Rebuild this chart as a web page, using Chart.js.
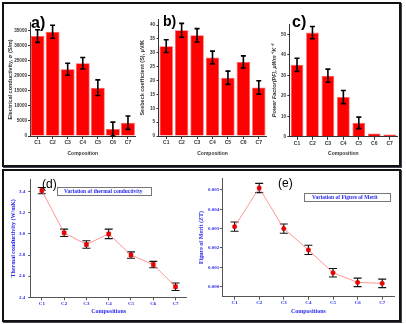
<!DOCTYPE html>
<html>
<head>
<meta charset="utf-8">
<script src="https://cdn.jsdelivr.net/npm/chart.js@4"></script>
<style>
body { margin: 0; width: 406px; height: 324px; background: #fff; position: relative; overflow: hidden; font-family: "Liberation Sans", Arial, sans-serif; }
canvas { position: absolute; }
.frame { position: absolute; box-sizing: border-box; border: 2px solid #111; box-shadow: 1px 1px 0 #445; }
.tag { position: absolute; font-weight: bold; line-height: 1; color: #000; }
.sub { position: absolute; font-size: 12px; line-height: 1; color: #000; }
.leg { position: absolute; box-sizing: border-box; border: 1px solid #777; color: #2a2aee; font: bold 5.5px "Liberation Serif", serif; line-height: 7px; white-space: nowrap; }
</style>
</head>
<body>
<div class="frame" style="left:2px;top:2px;width:399px;height:165px"></div>
<div class="frame" style="left:2px;top:169px;width:399px;height:153px"></div>

<canvas id="chartA" width="133" height="153" style="left:5px;top:5px"></canvas>
<canvas id="chartB" width="132" height="153" style="left:138px;top:5px"></canvas>
<canvas id="chartC" width="131" height="153" style="left:268px;top:5px"></canvas>
<canvas id="chartD" width="198" height="146" style="left:5px;top:172px"></canvas>
<canvas id="chartE" width="203" height="146" style="left:196px;top:172px"></canvas>

<div class="tag" style="left:31px;top:15px;font-size:16px">a)</div>
<div class="tag" style="left:163px;top:14px;font-size:14px">b)</div>
<div class="tag" style="left:292px;top:14px;font-size:16px">c)</div>
<div class="sub" style="left:42px;top:178px">(d)</div>
<div class="sub" style="left:278px;top:177px">(e)</div>
<div class="leg" style="left:57px;top:187px;width:95px;height:9px;padding-left:6px">Variation of thermal conductivity</div>
<div class="leg" style="left:304px;top:193px;width:87px;height:9px;padding-left:7px">Variation of Figure of Merit</div>

<script>
const categories = ['C1', 'C2', 'C3', 'C4', 'C5', 'C6', 'C7'];

// a) electrical conductivity (S/m)
const conductivity = [33100, 34500, 22100, 24100, 16000, 2300, 4400];
const conductivityErr = [2100, 2150, 2000, 1900, 2600, 2300, 2200];

// b) seebeck coefficient (uV/K)
const seebeck = [32.4, 38.1, 36.3, 28.3, 21.0, 26.7, 17.5];
const seebeckErr = [2.3, 2.5, 2.4, 2.3, 2.4, 2.2, 2.4];

// c) power factor
const powerFactor = [35.1, 50.8, 29.8, 19.4, 6.8, 1.6, 1.1];
const powerFactorErr = [3.2, 3.0, 3.2, 3.2, 2.8, 0, 0];

// d) thermal conductivity (W/mK)
const thermal = [3.41, 3.01, 2.90, 3.00, 2.80, 2.71, 2.50];
const thermalErr = [0.03, 0.035, 0.035, 0.045, 0.03, 0.03, 0.035];

// e) figure of merit
const merit = [0.0031, 0.0051, 0.0030, 0.0019, 0.00072, 0.00022, 0.00017];
const meritErr = [0.00024, 0.00024, 0.00024, 0.00024, 0.00022, 0.00022, 0.00022];

const topXTick = { family: 'Liberation Sans', size: 5, weight: 'bold' };
const topYTick = { family: 'Liberation Sans', size: 4.6, weight: 'bold' };
const topXTitle = { family: 'Liberation Sans', size: 5, weight: 'bold' };
const topYTitle = { family: 'Liberation Sans', size: 5.5, weight: 'bold' };
const botTick = { family: 'Liberation Serif', size: 5, weight: 'bold' };
const botTitle = { family: 'Liberation Serif', size: 6, weight: 'bold' };
const blue = '#2a2aee';

// vertical error bars with caps, drawn from the y scale
const errorBars = {
    id: 'errorBars',
    beforeDatasetsDraw(chart, args, opts) {
        if (!opts.front) drawErrors(chart, opts);
    },
    afterDatasetsDraw(chart, args, opts) {
        if (opts.front) drawErrors(chart, opts);
    }
};

function drawErrors(chart, opts) {
    const ctx = chart.ctx;
    const y = chart.scales.y;
    chart.data.datasets.forEach((ds, i) => {
        if (!ds.errors) return;
        const meta = chart.getDatasetMeta(i);
        ctx.save();
        ctx.strokeStyle = opts.color;
        ctx.lineWidth = opts.width;
        meta.data.forEach((el, j) => {
            const e = ds.errors[j];
            if (!e) return;
            const v = ds.data[j];
            const x = el.x;
            const top = y.getPixelForValue(v + e);
            const bot = y.getPixelForValue(v - e);
            ctx.beginPath();
            ctx.moveTo(x, top); ctx.lineTo(x, bot);
            ctx.moveTo(x - opts.cap, top); ctx.lineTo(x + opts.cap, top);
            ctx.moveTo(x - opts.cap, bot); ctx.lineTo(x + opts.cap, bot);
            ctx.stroke();
        });
        ctx.restore();
    });
}

function barPanel(id, values, errors, o) {
    new Chart(document.getElementById(id), {
        type: 'bar',
        data: {
            labels: categories,
            datasets: [{
                data: values,
                errors: errors,
                backgroundColor: '#ff0000',
                borderColor: '#ff5a5a',
                borderWidth: 0.8,
                barPercentage: o.bar,
                categoryPercentage: 1
            }]
        },
        options: {
            responsive: false,
            animation: false,
            layout: { padding: { top: o.padTop, right: o.padRight, left: 0, bottom: 0 } },
            plugins: {
                legend: { display: false },
                tooltip: { enabled: false },
                errorBars: { color: '#000', width: 1.6, cap: 2.5, front: true }
            },
            scales: {
                x: {
                    grid: { offset: false, drawOnChartArea: false, tickLength: 3, color: '#333' },
                    border: { color: '#333' },
                    ticks: { font: topXTick, color: '#333', padding: 1, maxRotation: 0, autoSkip: false },
                    title: { display: true, text: 'Composition', font: topXTitle, color: '#333', padding: { top: 0, bottom: 1.5 } },
                    afterFit(s) { s.height = o.xH; }
                },
                y: {
                    min: 0,
                    max: o.max,
                    grid: { drawOnChartArea: false, tickLength: 2, color: '#333' },
                    border: { color: '#333' },
                    ticks: { stepSize: o.step, includeBounds: false, font: topYTick, color: '#333', padding: o.tickPad, callback: v => String(v) },
                    title: { display: true, text: o.title, font: Object.assign({}, topYTitle, o.titleFont || {}), color: '#333', padding: { top: o.titlePad, bottom: 0 } },
                    afterBuildTicks(s) { s.ticks = s.ticks.filter(t => t.value % o.label === 0); },
                    afterFit(s) { s.width = o.yW; }
                }
            }
        },
        plugins: [errorBars]
    });
}

function linePanel(id, values, errors, o) {
    new Chart(document.getElementById(id), {
        type: 'line',
        data: {
            labels: categories,
            datasets: [{
                data: values,
                errors: errors,
                borderColor: '#ff7a7a',
                borderWidth: 0.8,
                pointStyle: o.point,
                pointRadius: o.radius,
                pointBackgroundColor: '#ee0000',
                pointBorderColor: '#cc0000',
                pointBorderWidth: 0.5,
                tension: 0
            }]
        },
        options: {
            responsive: false,
            animation: false,
            layout: { padding: { top: o.padTop, right: o.padRight, left: 0, bottom: 0 } },
            plugins: {
                legend: { display: false },
                tooltip: { enabled: false },
                errorBars: { color: '#111', width: 1.1, cap: 4, front: false }
            },
            scales: {
                x: {
                    offset: true,
                    grid: { offset: false, drawOnChartArea: false, tickLength: 3, color: '#555' },
                    border: { color: '#555' },
                    ticks: { font: botTick, color: blue, padding: 0, maxRotation: 0, autoSkip: false },
                    title: { display: true, text: 'Compositions', font: botTitle, color: blue, padding: { top: 0, bottom: 2.7 } },
                    afterFit(s) { s.height = o.xH; }
                },
                y: {
                    min: o.min,
                    max: o.max,
                    grid: { drawOnChartArea: false, tickLength: 2.5, color: '#555' },
                    border: { color: '#555' },
                    ticks: {
                        stepSize: o.step, includeBounds: false, font: botTick, color: blue, padding: o.tickPad,
                        callback: v => Number(v).toFixed(o.digits)
                    },
                    title: { display: true, text: o.title, font: botTitle, color: blue, padding: { top: o.titlePad, bottom: 0 } },
                    afterFit(s) { s.width = o.yW; }
                }
            }
        },
        plugins: [errorBars]
    });
}

barPanel('chartA', conductivity, conductivityErr, {
    max: 37500, step: 2500, label: 5000, bar: 0.92, padTop: 17.75, padRight: 2.5, xH: 22, yW: 25,
    tickPad: 1, titlePad: 1.7, title: 'Electrical conductivity, σ (S/m)'
});
barPanel('chartB', seebeck, seebeckErr, {
    max: 42, step: 5, label: 5, bar: 0.87, padTop: 14.5, padRight: 3.5, xH: 22, yW: 20.5,
    tickPad: 1.5, titlePad: 1, title: 'Seebeck coefficient (S), µV/K'
});
barPanel('chartC', powerFactor, powerFactorErr, {
    max: 55, step: 10, label: 10, bar: 0.82, padTop: 19, padRight: 1.6, xH: 21.2, yW: 21.3,
    tickPad: 1.3, titlePad: 3, title: 'Power Factor(PF), µWm⁻¹K⁻²', titleFont: { style: 'italic' }
});
linePanel('chartD', thermal, thermalErr, {
    min: 2.4, max: 3.517, step: 0.2, digits: 1, point: 'rect', radius: 2.8,
    padTop: 7.3, padRight: 16.3, xH: 20.7, yW: 25.7, tickPad: 3, titlePad: 4.4,
    title: 'Thermal conductivity (W/mK)'
});
linePanel('chartE', merit, meritErr, {
    min: -0.00052, max: 0.0056, step: 0.001, digits: 3, point: 'circle', radius: 2.2,
    padTop: 6.3, padRight: 2.3, xH: 21.3, yW: 26.3, tickPad: 0.5, titlePad: 2.1,
    title: 'Figure of Merit (ZT)'
});
</script>
</body>
</html>
